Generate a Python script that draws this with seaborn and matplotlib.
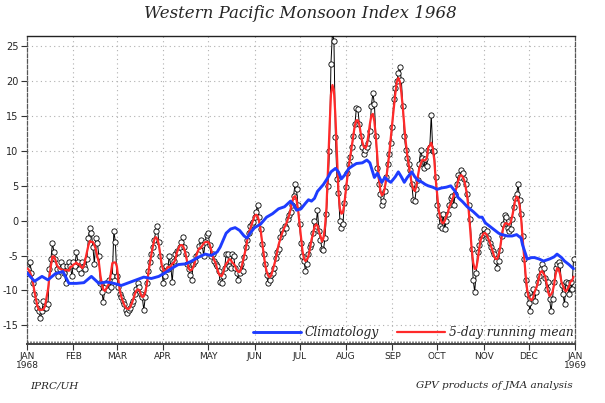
import numpy as np
import pandas as pd
import matplotlib
matplotlib.use("Agg")
import matplotlib.pyplot as plt
import seaborn as sns

# ---- daily Western Pacific Monsoon Index 1968 ----
jan = [-7.5, -7, -6, -7.5, -9, -10.5, -11.5, -12.5, -13, -14, -13, -11.5, -12.5, -12.5, -12,
       -7, -5.5, -3.2, -4.5, -5.5, -7, -8, -7, -6, -6.5, -7.5, -9, -6.5, -6, -6.5, -8]
feb = [-6, -6.5, -4.5, -6, -7, -7.5, -6, -6.5, -7, -5.5, -2.5, -1, -1.8, -3.8, -6.2,
       -2.5, -3.2, -5, -9, -10.2, -11.7, -9.5, -9, -10, -8.5, -9.5, -8, -1.5, -3]
mar = [-8, -9.5, -10.5, -11, -11.5, -12, -12.8, -13.2, -12.8, -12.5, -12, -11.5, -10.5, -9.8, -9,
       -9.5, -10.5, -11, -12.8, -11, -9, -7.2, -6, -4.8, -3.8, -2.8, -1.5, -0.7, -3, -5, -6.8]
apr = [-9, -8, -6.5, -7, -5, -6.5, -8.8, -5.8, -4.8, -4.3, -4.5, -3.8, -3, -2.4, -3.8,
       -4.8, -6.2, -7, -7.8, -8.5, -6.2, -5.8, -5, -4.8, -3.7, -2.8, -3.5, -5, -3, -2]
may = [-1.8, -3.5, -5, -4.8, -5.8, -6.2, -6.5, -7.2, -8.8, -9, -8, -6.8, -4.8, -4.8, -6.5,
       -6.8, -4.8, -5, -6.8, -7.5, -8.5, -7.5, -6.2, -7.2, -5.2, -3.8, -2.8, -1.8, -0.8, -0.5, -0.2]
jun = [0.5, 1.3, 2.2, 0.5, -1.2, -3.3, -4.8, -6.2, -7.8, -9, -8.5, -7.8, -7.5, -6.8, -5.3,
       -4.5, -4, -2.3, -1.3, -1.8, -0.8, -1, 0.2, 0.8, 1.3, 2.2, 3.5, 5.2, 4.5, 2.2]
jul = [-0.5, -3.2, -5, -5.8, -7.2, -6.2, -4.8, -3.8, -3.3, -1.8, 0, -0.8, 1.5, -1.5, -2.8,
       -4, -4.2, -2.5, 1, 5, 10, 22.5, 27, 25.8, 12, 6, 4, 0, -1, -0.5, 2.5]
aug = [4.8, 6.8, 8.2, 9.2, 10.5, 12.2, 13.8, 16.2, 16, 13.8, 12.2, 10.5, 9.5, 10.2, 10.5,
       11.2, 12.8, 16.5, 18.3, 16.8, 12.2, 7.5, 5.2, 3.8, 2.2, 2.8, 4.2, 6.2, 8.2, 9.5, 11.2]
sep = [13.5, 17.5, 19, 20, 21.2, 22, 20.2, 16.5, 12.2, 10.2, 9, 8.2, 7.2, 5.2, 3,
       2.8, 4.5, 5.8, 8.2, 10.2, 9, 7.5, 8.8, 7.8, 10.2, 10.5, 15.2, 10, 10, 6.2]
oct_ = [2.2, 0.8, -0.8, -1, 1, -1.2, 0, 1, 2.2, 3.2, 3.5, 2.2, 3.8, 5.2, 6.5,
        6.2, 7.2, 6.8, 6, 5.2, 3.8, 2.2, 0.2, -4, -8.5, -10.2, -7.5, -4.5, -3.5, -2.7, -2]
nov = [-1.2, -1.7, -1.5, -2.5, -3.2, -3.8, -4.3, -4.8, -5.8, -6.8, -5.8, -4.2, -2.2, -0.5, 0.8,
       0.5, -1, -1.5, -1.2, 0.3, 2, 3.3, 3.8, 5.2, 3, 1, -2.2, -5.5, -8.5, -10.5]
dec = [-11.8, -13, -11, -9.8, -11.5, -10.2, -8.8, -8, -7, -6.2, -6.8, -8.2, -9.8, -8.8, -11.2,
       -13, -11.2, -8.8, -6.8, -6.2, -6, -6.3, -9.3, -10.5, -12, -8.8, -9, -10.5, -8.8, -9.8, -5.5]

# ---- climatology (day of year, value) ----
clim_day = [0, 5, 10, 14, 19, 24, 28, 33, 38, 43, 48, 53, 58, 63, 68, 73, 78, 83, 88, 92,
            97, 101, 106, 110, 114, 119, 123, 127, 129, 131, 133, 136, 139, 142, 145, 147, 149,
            152, 156, 158, 160, 164, 168, 172, 176, 178, 180, 183, 186, 188, 190, 192, 194, 198,
            201, 203, 206, 208, 210, 212, 215, 217, 220, 224, 227, 229, 232, 234, 237, 239, 241,
            243, 246, 248, 250, 252, 254, 257, 259, 261, 264, 266, 268, 271, 274, 277, 280, 283,
            286, 288, 291, 294, 298, 302, 304, 306, 309, 312, 315, 317, 321, 324, 327, 330, 331,
            333, 334, 337, 339, 342, 345, 349, 352, 354, 357, 359, 362, 365]
clim_val = [-7.5, -8.7, -8.0, -8.5, -7.6, -7.3, -9.0, -9.0, -8.9, -8.0, -9.0, -8.8, -9.0, -9.3,
            -8.9, -8.5, -8.1, -8.3, -8.0, -7.5, -6.8, -6.3, -6.2, -5.8, -5.3, -4.8, -5.0, -4.5,
            -3.8, -2.8, -1.8, -1.2, -1.0, -1.4, -2.2, -2.5, -1.8, -1.0, -0.5, 0.0, 0.5, 1.0, 1.7,
            2.0, 2.8, 2.3, 1.5, 1.7, 2.5, 3.0, 2.8, 3.2, 4.2, 5.2, 6.2, 7.0, 7.5, 7.0, 6.0, 6.5,
            7.5, 7.8, 8.2, 8.3, 8.7, 8.3, 6.2, 6.8, 5.5, 6.2, 5.8, 5.5, 6.3, 7.0, 6.3, 5.5, 6.2,
            7.0, 6.3, 5.8, 5.5, 5.2, 5.0, 4.8, 4.5, 4.7, 4.8, 5.0, 4.2, 3.3, 2.7, 2.0, 1.3, 0.5,
            0.5, -0.3, -0.8, -1.3, -1.8, -2.0, -2.2, -2.2, -2.0, -2.5, -3.5, -4.8, -5.5, -5.3,
            -5.3, -5.5, -5.8, -5.5, -5.2, -4.8, -5.3, -5.8, -6.3, -6.9]

month_start = [0, 31, 60, 91, 121, 152, 182, 213, 244, 274, 305, 335, 366]
month_labels = ["JAN\n1968", "FEB", "MAR", "APR", "MAY", "JUN", "JUL", "AUG",
                "SEP", "OCT", "NOV", "DEC", "JAN\n1969"]
ytick_vals = [-15, -10, -5, 0, 5, 10, 15, 20, 25]

daily = jan + feb + mar + apr + may + jun + jul + aug + sep + oct_ + nov + dec
df = pd.DataFrame({"day": np.arange(len(daily)), "wpmi": daily})
df["mean5"] = df["wpmi"].rolling(5, center=True, min_periods=1).mean()
clim = pd.DataFrame({"day": clim_day, "clim": clim_val})

sns.set_style("white")
plt.rcParams["axes.unicode_minus"] = False

W, H = 605, 403
fig = plt.figure(figsize=(W / 100, H / 100), dpi=100)
x0, x1, ytop, ybot = 27, 575, 36, 344
ax = fig.add_axes([x0 / W, 1 - ybot / H, (x1 - x0) / W, (ybot - ytop) / H])

sns.lineplot(data=df, x="day", y="wpmi", ax=ax, color="black", lw=0.7,
             marker="o", markersize=3.8, markerfacecolor="white",
             markeredgecolor="black", markeredgewidth=0.6, zorder=3)
sns.lineplot(data=df, x="day", y="mean5", ax=ax, color="#ff2a2a", lw=1.6,
             zorder=4, label="5-day running mean")
sns.lineplot(data=clim, x="day", y="clim", ax=ax, color="#1e3cff", lw=2.1,
             zorder=5, label="Climatology")

ax.set_xlim(0, 366)
ax.set_ylim(-17.7, 26.5)
ax.set_xlabel("")
ax.set_ylabel("")

ax.set_xticks(month_start)
ax.set_xticklabels(month_labels, fontsize=6.5, linespacing=0.95)
ax.set_xticks(np.arange(0, 367, 1), minor=True)
ax.set_yticks(ytick_vals)
ax.set_yticklabels([str(v) for v in ytick_vals], fontsize=7)
ax.set_yticks(np.arange(-17, 27, 1), minor=True)

ax.tick_params(axis="x", which="major", direction="out", length=4, width=0.8,
               color="#333333", pad=2, bottom=True)
ax.tick_params(axis="x", which="minor", direction="in", length=2, width=0.5,
               color="#555555", bottom=True)
ax.tick_params(axis="y", which="major", direction="out", length=4, width=0.8,
               color="#333333", pad=2, left=True)
ax.tick_params(axis="y", which="minor", length=0)

ax.grid(False)
for v in ytick_vals:
    ax.axhline(v, color="#b0b0b0", lw=0.8, ls=(0, (1, 3)), zorder=1)
for m in month_start[1:-1]:
    ax.axvline(m, color="#b0b0b0", lw=0.8, ls=(0, (1, 3)), zorder=1)

for side in ["left", "right"]:
    ax.spines[side].set_linestyle((0, (3, 1.5)))
    ax.spines[side].set_color("#555555")
    ax.spines[side].set_linewidth(0.9)
ax.spines["top"].set_color("#222222")
ax.spines["top"].set_linewidth(1.0)
ax.spines["bottom"].set_color("#444444")
ax.spines["bottom"].set_linewidth(1.4)

handles, labels = ax.get_legend_handles_labels()
order = [labels.index("Climatology"), labels.index("5-day running mean")]
leg = ax.legend([handles[i] for i in order], [labels[i] for i in order],
                loc="lower right", bbox_to_anchor=(0.997, 0.015), ncol=2,
                frameon=False, handlelength=3.9, handletextpad=0.3,
                columnspacing=1.5, borderaxespad=0, borderpad=0,
                prop={"family": "DejaVu Serif", "style": "italic", "size": 8.8})

fig.text(0.497, 1 - 14 / H, "Western Pacific Monsoon Index 1968", ha="center", va="center",
         family="DejaVu Serif", style="italic", fontsize=12)
fig.text(30 / W, 1 - 386 / H, "IPRC/UH", ha="left", va="center",
         family="DejaVu Serif", style="italic", fontsize=7.5)
fig.text(573 / W, 1 - 386 / H, "GPV products of JMA analysis", ha="right", va="center",
         family="DejaVu Serif", style="italic", fontsize=7.5)

fig.savefig("out.png", dpi=100)
